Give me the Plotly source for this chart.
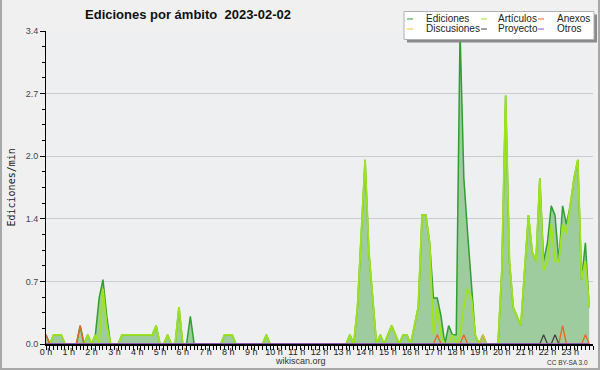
import plotly.graph_objects as go

# ---------------- data (edits/min per 10-minute slot) -------------
slot_hours = [k / 6 for k in range(144)]  # 10-minute slots, 00:00 .. 23:50

ediciones = [
    0.1, 0, 0.1, 0.1, 0.1, 0,        # 0 h
    0, 0, 0, 0.2, 0, 0.1,            # 1 h
    0, 0.1, 0.5, 0.7, 0.3, 0,        # 2 h
    0, 0, 0.1, 0.1, 0.1, 0.1,        # 3 h
    0.1, 0.1, 0.1, 0.1, 0.1, 0.2,    # 4 h
    0, 0, 0.1, 0, 0, 0.4,            # 5 h
    0, 0, 0.3, 0, 0, 0,              # 6 h
    0, 0, 0, 0, 0, 0.1,              # 7 h
    0.1, 0.1, 0, 0, 0, 0,            # 8 h
    0, 0, 0, 0, 0.1, 0,              # 9 h
    0, 0, 0, 0, 0, 0,                # 10 h
    0, 0, 0, 0, 0, 0,                # 11 h
    0, 0, 0, 0, 0, 0,                # 12 h
    0, 0, 0.1, 0, 0.4, 1.2,          # 13 h
    2.0, 1.0, 0.5, 0, 0.1, 0,        # 14 h
    0.1, 0.2, 0.1, 0, 0.1, 0.1,      # 15 h
    0, 0.2, 0.4, 1.4, 1.4, 1.1,      # 16 h
    0.5, 0.5, 0.3, 0, 0.2, 0.1,      # 17 h
    0.1, 3.4, 1.8, 1.2, 0.6, 0.1,    # 18 h
    0, 0.1, 0, 0, 0, 0,              # 19 h
    0.8, 2.7, 0.9, 0.4, 0.3, 0.2,    # 20 h
    0.8, 1.4, 1.0, 0.9, 1.8, 0.9,    # 21 h
    1.1, 1.5, 1.4, 0.9, 1.5, 1.3,    # 22 h
    1.5, 1.8, 2.0, 0.7, 1.1, 0.4,    # 23 h
]

articulos = [
    0, 0, 0.1, 0.1, 0.1, 0,          # 0 h
    0, 0, 0, 0, 0, 0.1,              # 1 h
    0, 0.1, 0, 0.6, 0.2, 0,          # 2 h
    0, 0, 0.1, 0.1, 0.1, 0.1,        # 3 h
    0.1, 0.1, 0.1, 0.1, 0.1, 0.2,    # 4 h
    0, 0, 0.1, 0, 0, 0.4,            # 5 h
    0, 0, 0, 0, 0, 0,                # 6 h
    0, 0, 0, 0, 0, 0.1,              # 7 h
    0.1, 0.1, 0, 0, 0, 0,            # 8 h
    0, 0, 0, 0, 0.1, 0,              # 9 h
    0, 0, 0, 0, 0, 0,                # 10 h
    0, 0, 0, 0, 0, 0,                # 11 h
    0, 0, 0, 0, 0, 0,                # 12 h
    0, 0, 0.1, 0, 0.4, 1.2,          # 13 h
    2.0, 1.0, 0.5, 0, 0.1, 0,        # 14 h
    0.1, 0.2, 0.1, 0, 0.1, 0.1,      # 15 h
    0, 0.2, 0.4, 1.4, 1.4, 1.1,      # 16 h
    0.1, 0.4, 0.1, 0, 0, 0.1,        # 17 h
    0, 0.1, 0.4, 0.6, 0.5, 0.1,      # 18 h
    0, 0, 0, 0, 0, 0,                # 19 h
    0.8, 2.7, 0.9, 0.4, 0.3, 0.2,    # 20 h
    0.8, 1.4, 1.0, 0.9, 1.8, 0.8,    # 21 h
    0.9, 1.3, 0.9, 0.9, 1.3, 1.2,    # 22 h
    1.5, 1.8, 2.0, 0.7, 0.9, 0.4,    # 23 h
]

anexos = [
    0.1, 0, 0, 0, 0, 0,  0, 0, 0, 0.2, 0, 0,  0, 0, 0, 0, 0, 0,  0, 0, 0, 0, 0, 0,      # 0-3 h
    0, 0, 0, 0, 0, 0,    0, 0, 0, 0, 0, 0,    0, 0, 0, 0, 0, 0,  0, 0, 0, 0, 0, 0,      # 4-7 h
    0, 0, 0, 0, 0, 0,    0, 0, 0, 0, 0, 0,    0, 0, 0, 0, 0, 0,  0, 0, 0, 0, 0, 0,      # 8-11 h
    0, 0, 0, 0, 0, 0,    0, 0, 0, 0, 0, 0,    0, 0, 0, 0, 0, 0,  0, 0, 0, 0, 0, 0,      # 12-15 h
    0, 0, 0, 0, 0, 0,    0, 0.1, 0, 0, 0, 0,  0, 0, 0.1, 0, 0, 0, 0, 0, 0, 0, 0, 0,     # 16-19 h
    0, 0, 0, 0, 0, 0,    0, 0, 0, 0, 0, 0,    0, 0, 0, 0, 0.2, 0, 0, 0, 0, 0, 0.1, 0,   # 20-23 h
]
discusiones = [
    0, 0, 0, 0, 0, 0,  0, 0, 0, 0, 0, 0,  0, 0, 0, 0, 0, 0,  0, 0, 0, 0, 0, 0,          # 0-3 h
    0, 0, 0, 0, 0, 0,  0, 0, 0, 0, 0, 0,  0, 0, 0, 0, 0, 0,  0, 0, 0, 0, 0, 0,          # 4-7 h
    0, 0, 0, 0, 0, 0,  0, 0, 0, 0, 0, 0,  0, 0, 0, 0, 0, 0,  0, 0, 0, 0, 0, 0,          # 8-11 h
    0, 0, 0, 0, 0, 0,  0, 0, 0, 0, 0, 0,  0, 0, 0, 0, 0, 0,  0, 0, 0, 0, 0, 0,          # 12-15 h
    0, 0, 0, 0, 0, 0,  0, 0, 0, 0, 0, 0,  0, 0, 0, 0, 0, 0,  0, 0.1, 0, 0, 0, 0,        # 16-19 h
    0, 0, 0, 0, 0, 0,  0, 0, 0, 0, 0, 0,  0, 0, 0, 0, 0, 0,  0, 0, 0, 0, 0, 0,          # 20-23 h
]
proyecto = [
    0, 0, 0, 0, 0, 0,  0, 0, 0, 0, 0, 0,  0, 0, 0, 0, 0, 0,  0, 0, 0, 0, 0, 0,          # 0-3 h
    0, 0, 0, 0, 0, 0,  0, 0, 0, 0, 0, 0,  0, 0, 0, 0, 0, 0,  0, 0, 0, 0, 0, 0,          # 4-7 h
    0, 0, 0, 0, 0, 0,  0, 0, 0, 0, 0, 0,  0, 0, 0, 0, 0, 0,  0, 0, 0, 0, 0, 0,          # 8-11 h
    0, 0, 0, 0, 0, 0,  0, 0, 0, 0, 0, 0,  0, 0, 0, 0, 0, 0,  0, 0, 0, 0, 0, 0,          # 12-15 h
    0, 0, 0, 0, 0, 0,  0, 0, 0, 0, 0, 0,  0, 0, 0, 0, 0, 0,  0, 0, 0, 0, 0, 0,          # 16-19 h
    0, 0, 0, 0, 0, 0,  0, 0, 0, 0, 0, 0.1, 0, 0, 0.1, 0, 0, 0, 0, 0, 0, 0, 0, 0,        # 20-23 h
]
otros = [0] * 144

series_names = ["Ediciones", "Artículos", "Anexos", "Discusiones", "Proyecto", "Otros"]
series_values = [ediciones, articulos, anexos, discusiones, proyecto, otros]
series_colors = ["#2f9f2f", "#9fe41a", "#ee6222", "#ecc22c", "#444444", "#9955dd"]
series_widths = [1.5, 1.8, 1.3, 1.3, 1.3, 1.3]

hour_ticks = list(range(24))
hour_labels = ["0 h", "1 h", "2 h", "3 h", "4 h", "5 h", "6 h", "7 h", "8 h", "9 h", "10 h", "11 h",
               "12 h", "13 h", "14 h", "15 h", "16 h", "17 h", "18 h", "19 h", "20 h", "21 h", "22 h", "23 h"]
y_tick_values = [0, 0.68, 1.36, 2.04, 2.72, 3.4]
y_tick_labels = ["0.0", "0.7", "1.4", "2.0", "2.7", "3.4"]

# ---------------- layout geometry -------------
W, H = 600, 370
ML, MR, MT, MB = 46, 7, 31, 26
PW, PH = W - ML - MR, H - MT - MB


def px(xp):
    return (xp - ML) / PW


def py(yp):
    return (H - MB - yp) / PH


FONT = "Liberation Sans, Arial, sans-serif"

fig = go.Figure()
for i, (name, vals, col, w) in enumerate(zip(series_names, series_values, series_colors, series_widths)):
    kw = {}
    if i == 0:
        kw = dict(fill="tozeroy", fillcolor="#9fcc9f")
    fig.add_trace(go.Scatter(x=slot_hours, y=vals, mode="lines", name=name,
                             line=dict(color=col, width=w), showlegend=False, **kw))

fig.update_layout(
    width=W, height=H,
    margin=dict(l=ML, r=MR, t=MT, b=MB),
    paper_bgcolor="#f0f0f0",
    plot_bgcolor="#eeeff1",
    font=dict(family=FONT, size=9, color="#222"),
    title=dict(text="<b>Ediciones por ámbito \u00a02023-02-02</b>", x=188 / W, xanchor="center",
               y=1 - 14 / H, yanchor="middle", font=dict(family=FONT, size=13, color="#111")),
    xaxis=dict(range=[0, 24], tickmode="array", tickvals=hour_ticks, ticktext=hour_labels,
               ticks="outside", ticklen=4, tickcolor="#000", tickwidth=1, ticklabelstandoff=-6,
               showline=True, linecolor="#000", linewidth=1.5, showgrid=False, zeroline=False,
               tickfont=dict(family=FONT, size=9, color="#222"),
               minor=dict(dtick=1 / 6, tick0=0, ticks="outside", ticklen=4, tickcolor="#000", showgrid=False),
               fixedrange=True),
    yaxis=dict(range=[0, 3.4], tickmode="array", tickvals=y_tick_values, ticktext=y_tick_labels,
               ticks="outside", ticklen=5, tickcolor="#000", tickwidth=1,
               showline=True, linecolor="#000", linewidth=1, showgrid=True, gridcolor="#cccccc",
               gridwidth=1, zeroline=False,
               tickfont=dict(family=FONT, size=9, color="#444"),
               minor=dict(dtick=0.17, tick0=0, ticks="outside", ticklen=3, tickcolor="#000", showgrid=False),
               fixedrange=True),
)

shapes = []
annotations = []

# outer border (left, right, bottom)
for x0, y0, x1, y1 in [(1, 0, 1, H), (W - 1, 0, W - 1, H), (0, H - 1, W, H - 1)]:
    shapes.append(dict(type="line", xref="paper", yref="paper", x0=px(x0), y0=py(y0), x1=px(x1), y1=py(y1),
                       line=dict(color="#a8a8a8", width=2), layer="above"))

# legend box with shadow
shapes.append(dict(type="rect", xref="paper", yref="paper", x0=px(407), x1=px(597), y0=py(14.5), y1=py(42.5),
                   fillcolor="#8a8a8a", line=dict(width=0), layer="above"))
shapes.append(dict(type="rect", xref="paper", yref="paper", x0=px(404), x1=px(594), y0=py(11.5), y1=py(39.5),
                   fillcolor="#ffffff", line=dict(color="#b0b0b0", width=1), layer="above"))
col_dash_x = [407, 481, 538]
col_text_x = [424, 496, 555]
row_y = [19, 29]
for i, (name, col) in enumerate(zip(series_names, series_colors)):
    r, c = divmod(i, 3)
    shapes.append(dict(type="line", xref="paper", yref="paper", x0=px(col_dash_x[c]), x1=px(col_dash_x[c] + 6),
                       y0=py(row_y[r]), y1=py(row_y[r]), line=dict(color=col, width=1), layer="above"))
    annotations.append(dict(text=name, xref="paper", yref="paper", x=px(col_text_x[c]), y=py(row_y[r]),
                            xanchor="left", yanchor="middle", showarrow=False,
                            font=dict(family=FONT, size=10, color="#222")))

# axis title
annotations.append(dict(text="Ediciones/min", xref="paper", yref="paper", x=px(11), y=0.5, textangle=-90,
                        xanchor="center", yanchor="middle", showarrow=False,
                        font=dict(family="DejaVu Sans Mono, monospace", size=10, color="#222")))
# footer
annotations.append(dict(text="wikiscan.org", xref="paper", yref="paper", x=px(300), y=py(361),
                        xanchor="center", yanchor="middle", showarrow=False,
                        font=dict(family=FONT, size=9, color="#333")))
annotations.append(dict(text="CC BY-SA 3.0", xref="paper", yref="paper", x=px(590), y=py(362),
                        xanchor="right", yanchor="middle", showarrow=False,
                        font=dict(family=FONT, size=6.5, color="#333")))

fig.update_layout(shapes=shapes, annotations=annotations)
fig.write_html("out.html", config={"displayModeBar": False},
               post_script="document.body.style.margin='0';document.body.style.padding='0';")
